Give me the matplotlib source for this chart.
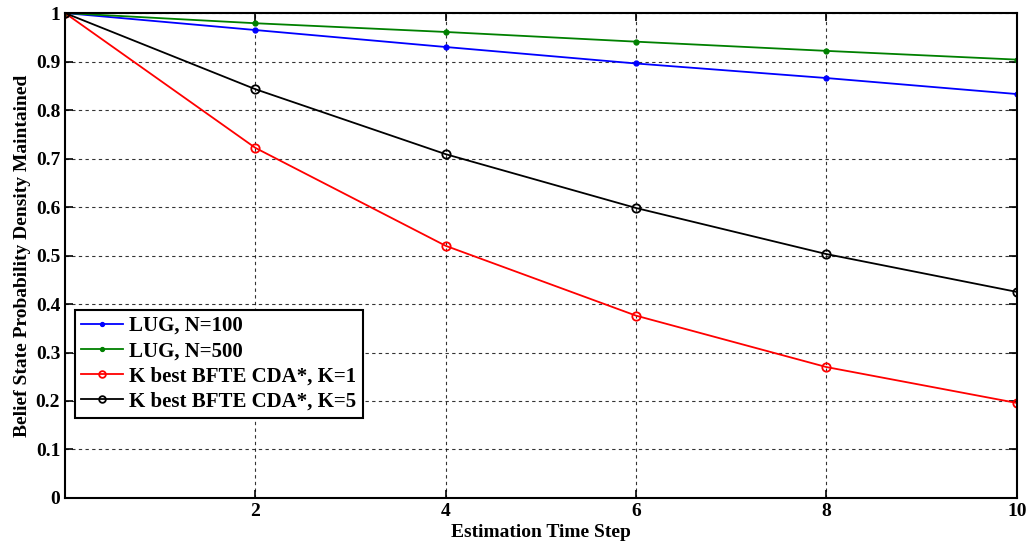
import matplotlib.pyplot as plt
import numpy as np

plt.rcParams['font.family'] = ['Liberation Serif', 'DejaVu Serif']
plt.rcParams['font.weight'] = 'bold'

steps = [0, 2, 4, 6, 8, 10]
lug100 = [1.0, 0.965, 0.930, 0.896, 0.866, 0.833]
lug500 = [1.0, 0.979, 0.961, 0.941, 0.922, 0.904]
kbest1 = [1.0, 0.722, 0.520, 0.376, 0.270, 0.196]
kbest5 = [1.0, 0.843, 0.709, 0.598, 0.503, 0.425]

fig = plt.figure(figsize=(10.27, 5.44), dpi=100)
ax = fig.add_axes([0.0633, 0.0846, 0.9267, 0.8914])

ax.plot(steps, lug100, '-', color='blue', marker='.', markersize=7, lw=1.3, label='LUG, N=100')
ax.plot(steps, lug500, '-', color='green', marker='.', markersize=7, lw=1.3, label='LUG, N=500')
ax.plot(steps, kbest1, '-', color='red', marker='o', markersize=6, mfc='none', mew=1.3, lw=1.3,
        label='K best BFTE CDA*, K=1')
ax.plot(steps, kbest5, '-', color='black', marker='o', markersize=6, mfc='none', mew=1.3, lw=1.3,
        label='K best BFTE CDA*, K=5')

ax.set_xlim(0, 10)
ax.set_ylim(0, 1)
ax.set_xticks([2, 4, 6, 8, 10])
ax.set_yticks(np.arange(0, 1.01, 0.1))
ax.set_yticklabels(['0', '0.1', '0.2', '0.3', '0.4', '0.5', '0.6', '0.7', '0.8', '0.9', '1'])
ax.tick_params(direction='in', top=True, right=True, labelsize=14, width=1.2, length=6)
for lbl in ax.get_xticklabels() + ax.get_yticklabels():
    lbl.set_fontweight('bold')
ax.grid(True, linestyle=(0, (3, 3)), color='black', lw=0.8, alpha=0.8)
for s in ax.spines.values():
    s.set_linewidth(1.5)

ax.set_xlabel('Estimation Time Step', fontsize=14, fontweight='bold', labelpad=3)
ax.set_ylabel('Belief State Probability Density Maintained', fontsize=14, fontweight='bold', labelpad=3)

leg = ax.legend(loc='upper left', bbox_to_anchor=(0.0105, 0.388), fontsize=15, frameon=True,
                fancybox=False, edgecolor='black', framealpha=1, handlelength=2.0, borderpad=0.3,
                labelspacing=0.25, handletextpad=0.3, markerscale=0.8, borderaxespad=0)
leg.get_frame().set_linewidth(1.5)
for t in leg.get_texts():
    t.set_fontweight('bold')

fig.savefig('out.png', dpi=100)
